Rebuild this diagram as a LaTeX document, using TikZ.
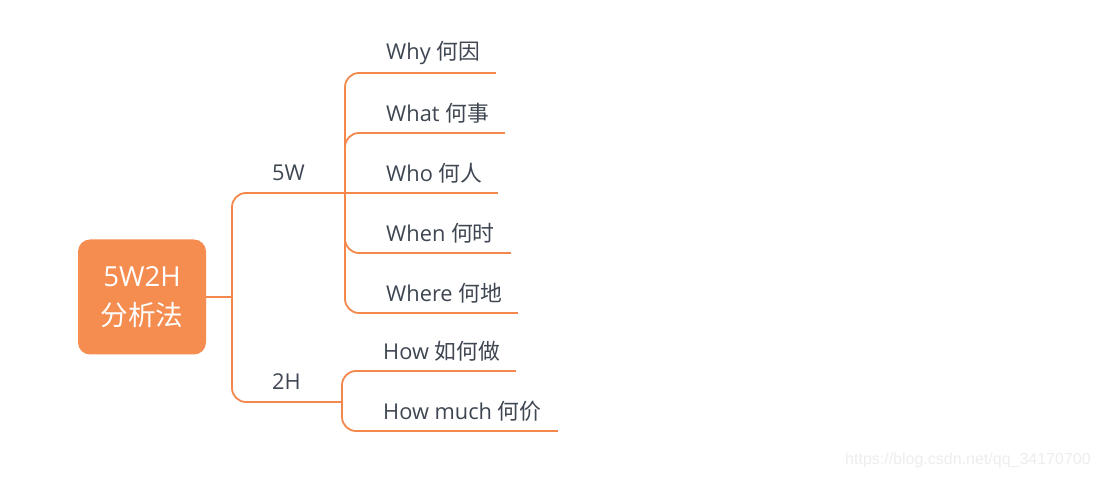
\documentclass[tikz,border=0pt]{standalone}
\usepackage{fontspec}
\setmainfont{Open Sans}
\newfontfamily\cjk{Noto Sans CJK SC}
\newfontfamily\wmfont{Liberation Sans}
\usetikzlibrary{calc}
\definecolor{mmorange}{HTML}{F58C50}
\definecolor{mmline}{HTML}{F4884C}
\definecolor{mmtext}{HTML}{3E4651}
\definecolor{wmgray}{HTML}{EDEDED}
\tikzset{
  rootbox/.style={fill=mmorange, rounded corners=12pt, minimum width=128pt, minimum height=115pt,
    inner sep=0pt, text=white, align=center, font=\fontsize{27.6}{39}\selectfont},
  leaf/.style={anchor=south west, inner xsep=16pt, inner ysep=0pt, minimum height=40pt,
    text=mmtext, font=\fontsize{21.8}{25}\selectfont},
  straightconn/.style={draw=mmline, line width=1.8pt},
  conn/.style={straightconn, rounded corners=14pt},
}
\begin{document}
\begin{tikzpicture}[x=1pt,y=-1pt]
\useasboundingbox (0,0) rectangle (1098,478);
\node[rootbox] (root) at (142,297) {5W2H\\{\cjk 分析法}};
\node[leaf] (w5) at (256,193) {5W};
\node[leaf] (h2) at (256,402) {2H};
\coordinate (j) at (232,297);
\coordinate (v5) at (345,193);
\coordinate (v2) at (342,402);
\node[leaf] (why) at (370,73) {Why {\cjk 何因}};
\node[leaf] (what) at (370,133) {What {\cjk 何事}};
\node[leaf] (who) at (370,193) {Who {\cjk 何人}};
\node[leaf] (when) at (370,253) {When {\cjk 何时}};
\node[leaf] (where) at (370,313) {Where {\cjk 何地}};
\node[leaf] (how) at (367,371) {How {\cjk 如何做}};
\node[leaf] (howmuch) at (367,431) {How much {\cjk 何价}};
% underlines
\foreach \n in {w5,h2,why,what,who,when,where,how,howmuch}
  \draw[straightconn] (\n.south west) -- (\n.south east);
% root connectors
\draw[straightconn] (root.east) -- (j);
\draw[conn] (w5.south west) -| (j) |- (h2.south west);
% 5W group
\draw[straightconn] (w5.south east) -- (v5);
\draw[conn] (why.south west) -| (v5);
\draw[conn] (what.south west) -| (v5);
\draw[straightconn] (who.south west) -- (v5);
\draw[conn] (when.south west) -| (v5);
\draw[conn] (where.south west) -| (v5);
% 2H group
\draw[straightconn] (h2.south east) -- (v2);
\draw[conn] (how.south west) -| (v2);
\draw[conn] (howmuch.south west) -| (v2);
% watermark
\node[anchor=west, inner sep=0pt, text=wmgray, font=\wmfont\fontsize{16}{18}\selectfont] (wm) at (845,460) {https://blog.csdn.net/qq\_34170700};
\end{tikzpicture}
\end{document}
